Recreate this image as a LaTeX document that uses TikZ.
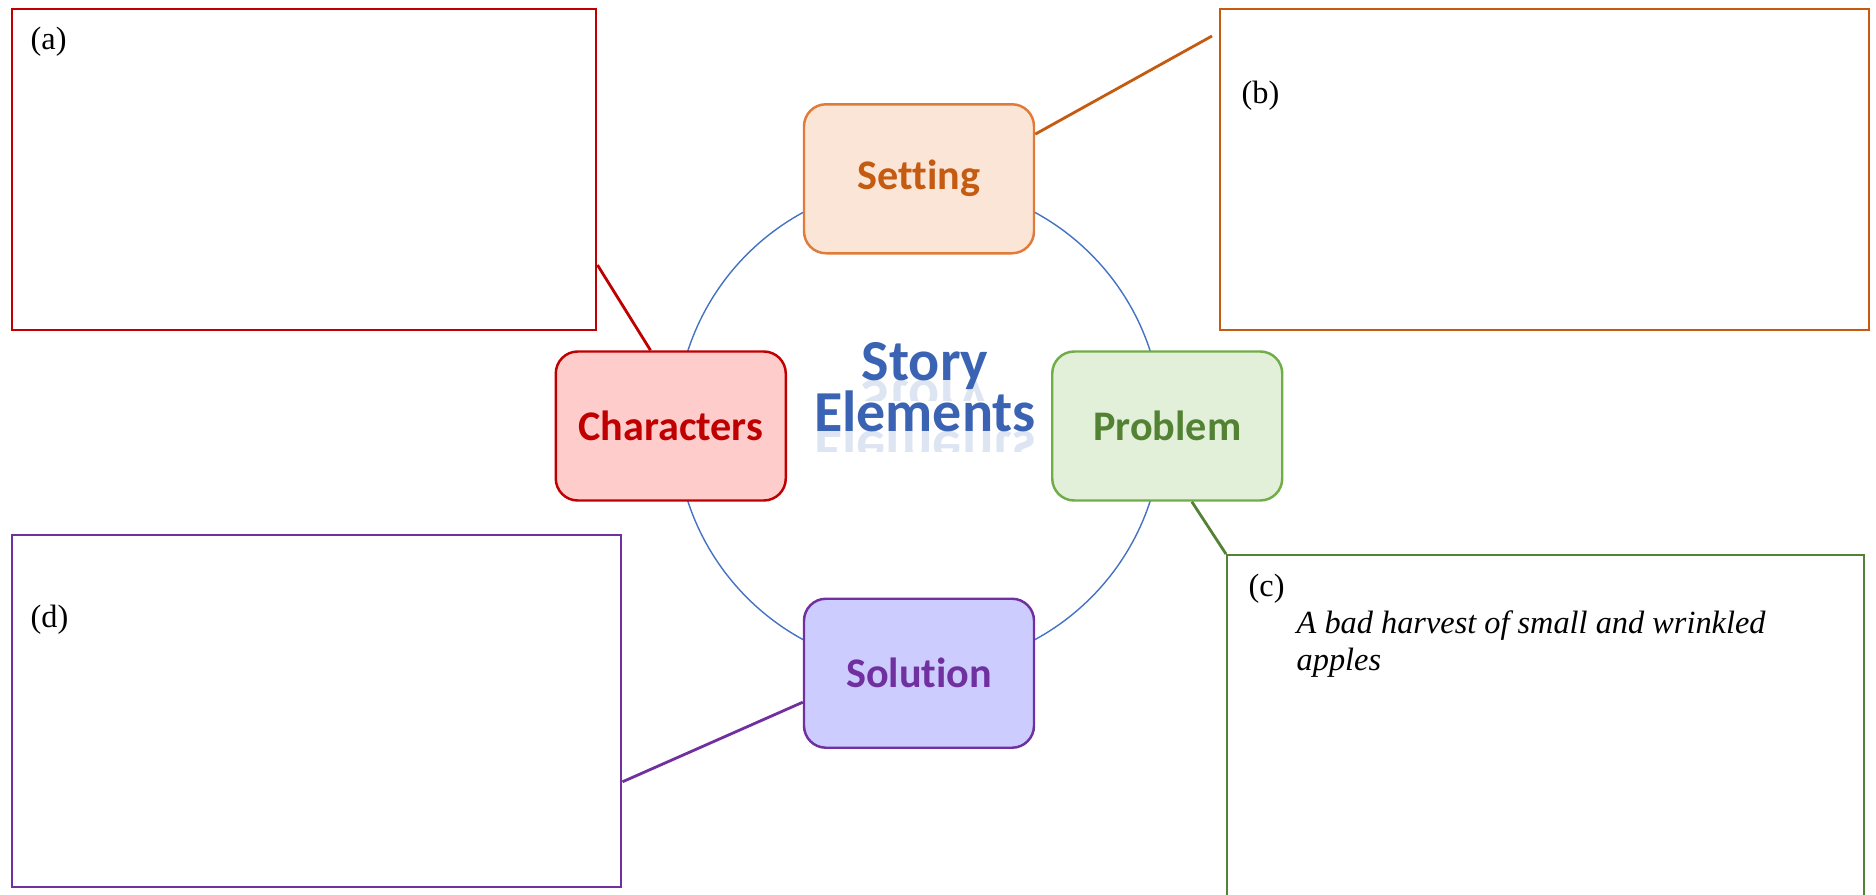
\documentclass[tikz,border=0pt]{standalone}
\usepackage{fontspec}
\setmainfont{Liberation Serif}
\newfontfamily\calibri[Ligatures=NoCommon]{Carlito}
\usepackage{tikz}
\usetikzlibrary{positioning,calc}

\definecolor{charred}{HTML}{C00000}
\definecolor{charfill}{HTML}{FFCCCC}
\definecolor{setorange}{HTML}{C55A11}
\definecolor{setborder}{HTML}{E07B39}
\definecolor{setfill}{HTML}{FBE5D6}
\definecolor{probgreen}{HTML}{548235}
\definecolor{probborder}{HTML}{70AD47}
\definecolor{probfill}{HTML}{E2F0D9}
\definecolor{solpurple}{HTML}{7030A0}
\definecolor{solfill}{HTML}{CCCCFF}
\definecolor{ringblue}{HTML}{4472C4}
\definecolor{titleblue}{HTML}{3B63B3}

\begin{document}
\begin{tikzpicture}[node distance=1cm, auto]
\tikzset{
    elemnode/.style={rectangle,rounded corners=0.22cm,line width=0.7pt,minimum width=2.30cm,minimum height=1.49cm,inner sep=0pt,font=\calibri\bfseries\fontsize{12}{14}\selectfont},
    notebox/.style={rectangle,draw,line width=0.7pt,anchor=north west,inner sep=0pt},
    mylink/.style={line width=0.8pt},
    mylabel/.style={inner sep=0pt,font=\fontsize{9.2}{10.5}\selectfont},
    titletext/.style={text=titleblue,inner sep=0pt,anchor=base,font=\calibri\bfseries\fontsize{16.5}{16.5}\selectfont},
    mirror/.style={titletext, yscale=-1, transform shape, opacity=0.17}
}
\useasboundingbox (0,0) rectangle (18.76,8.94);
\coordinate (hub) at (9.19,4.68);
\draw[ringblue, line width=0.4pt] (hub) circle (2.43cm);

\node[elemnode, draw=setborder, fill=setfill, text=setorange, above=1.715cm of hub] (setting) {Setting};
\node[elemnode, draw=charred, fill=charfill, text=charred, left=1.32cm of hub] (characters) {Characters};
\node[elemnode, draw=probborder, fill=probfill, text=probgreen, right=1.32cm of hub] (problem) {Problem};
\node[elemnode, draw=solpurple, fill=solfill, text=solpurple, below=1.715cm of hub] (solution) {Solution};

% title in the middle of the ring, with its faint reflection
\begin{scope}
  \clip ($(9.25,5.14)+(-0.8,0)$) rectangle ($(9.25,5.14)+(0.8,-0.2)$);
  \node[mirror] at (9.25,5.14) {Story};
\end{scope}
\begin{scope}
  \clip ($(9.25,4.63)+(-1.3,0)$) rectangle ($(9.25,4.63)+(1.3,-0.2)$);
  \node[mirror] at (9.25,4.63) {Elements};
\end{scope}
\node[titletext] (elements) at (9.25,4.63) {Elements};
\node[titletext] (story) at ($(elements.base)+(0,0.51)$) {Story};

\node[notebox, draw=charred, minimum width=5.84cm, minimum height=3.21cm] (boxa) at (0.11,8.86) {};
\node[notebox, draw=setorange, minimum width=6.49cm, minimum height=3.21cm] (boxb) at (12.19,8.86) {};
\node[notebox, draw=probgreen, minimum width=6.37cm, minimum height=3.55cm] (boxc) at (12.26,3.40) {};
\node[notebox, draw=solpurple, minimum width=6.09cm, minimum height=3.52cm] (boxd) at (0.11,3.60) {};

\node[mylabel, below right=0.18cm and 0.19cm of boxa.north west] (labela) {(a)};
\node[mylabel, below right=0.72cm and 0.22cm of boxb.north west] (labelb) {(b)};
\node[mylabel, below right=0.19cm and 0.22cm of boxc.north west] (labelc) {(c)};
\node[mylabel, below right=0.70cm and 0.19cm of boxd.north west] (labeld) {(d)};
\node[mylabel, align=left, font=\fontsize{9.2}{10.5}\selectfont\itshape, below right=0.56cm and 0.70cm of boxc.north west] (problemtext) {A bad harvest of small and wrinkled\\apples};

\coordinate (btip) at ($(boxb.north west)+(-0.07,-0.28)$);
\draw[mylink, charred] (boxa.-18) -- (characters.105);
\draw[mylink, setorange] (setting.21) -- (btip);
\draw[mylink, probgreen] (problem.-72) -- (boxc.north west);
\draw[mylink, solpurple] (solution.194) -- (boxd.-13);

\end{tikzpicture}
\end{document}
